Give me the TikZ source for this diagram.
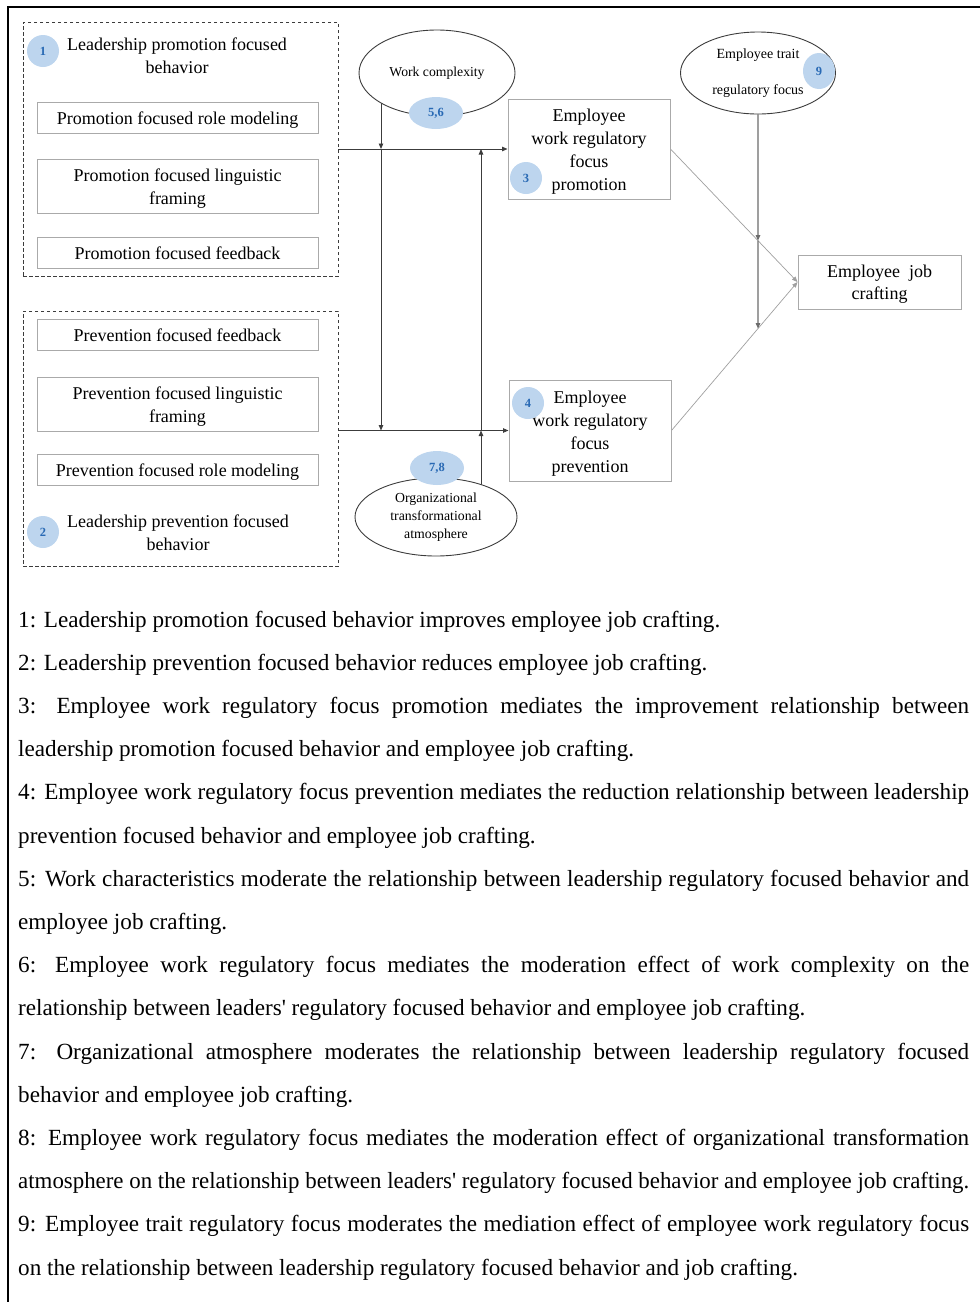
\documentclass[tikz,border=0pt]{standalone}
\usepackage{graphicx}
\usepackage{fontspec}
\setmainfont{Liberation Serif}
\usetikzlibrary{shapes.geometric,arrows.meta,backgrounds}

\definecolor{blobfill}{RGB}{189,213,238}
\definecolor{blobtext}{RGB}{40,105,180}
\definecolor{boxline}{RGB}{170,170,170}
\definecolor{darkline}{RGB}{60,60,60}

% justified text line of fixed width; squeezed if too long
\newsavebox\notebox
\newcommand\fullline[1]{\sbox\notebox{#1}%
  \ifdim\wd\notebox>951pt\resizebox{951pt}{\height}{\usebox\notebox}%
  \else\makebox[951pt][s]{#1}\fi}
% box label set a little lower than the geometric centre
\newcommand\lift[1]{\raisebox{-2.5pt}[\height][\depth]{\begin{tabular}{@{}c@{}}#1\end{tabular}}}
\newcommand\apos{\textquotesingle}

\tikzset{
  group/.style={draw=darkline, line width=0.9pt, dash pattern=on 3.5pt off 2.5pt,
    minimum width=315, minimum height=254, inner sep=0},
  item/.style={draw=boxline, line width=1pt, minimum width=281, inner sep=0,
    align=center, font=\fontsize{18}{23}\selectfont},
  var/.style={draw=boxline, line width=1pt, inner sep=0, align=center,
    font=\fontsize{18}{23}\selectfont},
  oval/.style={ellipse, draw=darkline, line width=0.9pt, fill=white, inner sep=0,
    align=center},
  blob/.style={ellipse, fill=blobfill, inner sep=0, text=blobtext,
    font=\fontsize{12.5}{14}\selectfont\bfseries},
  heading/.style={align=center, font=\fontsize{18}{23}\selectfont},
  tip/.style={-{Triangle[length=5.5pt,width=4.5pt]}},
  conn/.style={tip, draw=darkline, line width=0.9pt},
  diag/.style={tip, draw=gray!75, line width=0.7pt},
  modline/.style={tip, draw=gray!85!black, line width=1.1pt},
  note/.style={anchor=base west, inner sep=0, font=\fontsize{23.15}{27}\selectfont}
}

\begin{document}
\begin{tikzpicture}[x=1pt, y=-1pt]
\useasboundingbox (0,0) rectangle (980,1302);

% page frame (top and left rules)
\draw[line width=2pt] (980,7) -- (8,7) -- (8,1302);

% promotion focused leadership group
\node[group] (pgrp) at (180.5,149) {};
\node[blob, minimum width=32, minimum height=32] (b1) at (43,51) {1};
\node[heading] (ptitle) at (177,56) {Leadership promotion focused\\behavior};
\node[item, minimum height=31] (prm) at (177.5,117.5) {\lift{Promotion focused role modeling}};
\node[item, minimum height=54] (plf) at (177.5,186) {\lift{Promotion focused linguistic\\framing}};
\node[item, minimum height=31] (pfb) at (177.5,252.5) {\lift{Promotion focused feedback}};

% prevention focused leadership group
\node[group, minimum height=255] (pvgrp) at (180.5,438.5) {};
\node[item, minimum height=31] (vfb) at (177.5,334.5) {\lift{Prevention focused feedback}};
\node[item, minimum height=54] (vlf) at (177.5,404) {\lift{Prevention focused linguistic\\framing}};
\node[item, minimum height=31] (vrm) at (177.5,469.5) {\lift{Prevention focused role modeling}};
\node[blob, minimum width=32, minimum height=32] (b2) at (43,532) {2};
\node[heading] (vtitle) at (178,533) {Leadership prevention focused\\behavior};

% moderators
\node[oval, minimum width=156, minimum height=86, font=\fontsize{13.7}{16}\selectfont] (wc) at (437,73) {Work complexity};
\node[blob, minimum width=54, minimum height=32] (b56) at (436,113) {5,6};

\node[oval, minimum width=155, minimum height=82, font=\fontsize{14}{36}\selectfont] (trait) at (758,73) {Employee trait\\regulatory focus};
\node[blob, minimum width=32, minimum height=36] (b9) at (819,71) {9};

\node[oval, minimum width=162, minimum height=78, font=\fontsize{13.8}{18}\selectfont] (org) at (436,517) {Organizational\\transformational\\atmosphere};
\node[blob, minimum width=54, minimum height=34] (b78) at (437,468) {7,8};

% mediators and outcome
\node[var, minimum width=162, minimum height=100] (promo) at (589,149) {\lift{Employee\\work regulatory\\focus\\promotion}};
\node[blob, minimum width=32, minimum height=32] (b3) at (526,178) {3};

\node[var, minimum width=162, minimum height=101] (prev) at (590,430.5) {\lift{Employee\\work regulatory\\focus\\prevention}};
\node[blob, minimum width=32, minimum height=32] (b4) at (528,403) {4};

\node[var, minimum width=163, minimum height=54, font=\fontsize{18}{22}\selectfont] (jc) at (879.5,282) {\lift{Employee\ \ job\\crafting}};

% connector anchor points
\coordinate (wcdrop) at (381,95);
\coordinate (otrise) at (481,505);
\coordinate (m1) at (intersection of trait.north--trait.south and promo.east--jc.west);
\coordinate (m2) at (intersection of trait.north--trait.south and prev.east--jc.west);

\begin{scope}[on background layer]
\draw[conn] (pgrp.east) -- (promo.west);
\draw[conn] (prev.west -| pvgrp.east) -- (prev.west);
\draw[conn] (wcdrop) -- (wcdrop |- promo.west);
\draw[conn] (wcdrop |- promo.west) -- (wcdrop |- prev.west);
\draw[conn] (otrise) -- (otrise |- prev.west);
\draw[conn] (otrise |- prev.west) -- (otrise |- promo.west);
\draw[diag] (promo.east) -- (jc.west);
\draw[diag] (prev.east) -- (jc.west);
\draw[modline] (trait.south) -- (m1);
\draw[modline] (m1) -- (m2);
\end{scope}

% hypotheses
\node[note] (h1a) at (18,627) {1: Leadership promotion focused behavior improves employee job crafting.};
\node[note] (h2a) at (18,670.2) {2: Leadership prevention focused behavior reduces employee job crafting.};
\node[note] (h3a) at (18,713.4) {\fullline{3: Employee work regulatory focus promotion mediates the improvement relationship between}};
\node[note] (h3b) at (18,756.6) {leadership promotion focused behavior and employee job crafting.};
\node[note] (h4a) at (18,799.8) {\fullline{4: Employee work regulatory focus prevention mediates the reduction relationship between leadership}};
\node[note] (h4b) at (18,843) {prevention focused behavior and employee job crafting.};
\node[note] (h5a) at (18,886.2) {\fullline{5: Work characteristics moderate the relationship between leadership regulatory focused behavior and}};
\node[note] (h5b) at (18,929.4) {employee job crafting.};
\node[note] (h6a) at (18,972.6) {\fullline{6: Employee work regulatory focus mediates the moderation effect of work complexity on the}};
\node[note] (h6b) at (18,1015.8) {relationship between leaders\apos{} regulatory focused behavior and employee job crafting.};
\node[note] (h7a) at (18,1059) {\fullline{7: Organizational atmosphere moderates the relationship between leadership regulatory focused}};
\node[note] (h7b) at (18,1102.2) {behavior and employee job crafting.};
\node[note] (h8a) at (18,1145.4) {\fullline{8: Employee work regulatory focus mediates the moderation effect of organizational transformation}};
\node[note] (h8b) at (18,1188.6) {\fullline{atmosphere on the relationship between leaders\apos{} regulatory focused behavior and employee job crafting.}};
\node[note] (h9a) at (18,1231.8) {\fullline{9: Employee trait regulatory focus moderates the mediation effect of employee work regulatory focus}};
\node[note] (h9b) at (18,1275) {on the relationship between leadership regulatory focused behavior and job crafting.};
\end{tikzpicture}
\end{document}
